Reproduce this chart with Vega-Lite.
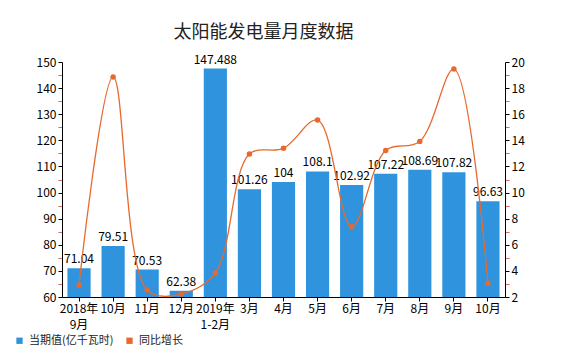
{
  "$schema": "https://vega.github.io/schema/vega-lite/v6.json",
  "autosize": {"type": "none"},
  "width": 443,
  "height": 235,
  "padding": {"left": 62, "top": 62, "right": 56, "bottom": 63},
  "background": "white",
  "title": {"text": "太阳能发电量月度数据", "fontSize": 18, "font": "Noto Sans CJK SC", "fontWeight": "normal", "color": "#222", "offset": 12, "anchor": "middle", "dx": -20},
  "data": {"values": [
    {"period": "2018-09", "value": 71.04, "yoy": 2.92},
    {"period": "2018-10", "value": 79.51, "yoy": 18.85},
    {"period": "2018-11", "value": 70.53, "yoy": 2.54},
    {"period": "2018-12", "value": 62.38, "yoy": 2.23},
    {"period": "2019-02", "value": 147.488, "yoy": 3.84},
    {"period": "2019-03", "value": 101.26, "yoy": 12.95},
    {"period": "2019-04", "value": 104, "yoy": 13.39},
    {"period": "2019-05", "value": 108.1, "yoy": 15.55},
    {"period": "2019-06", "value": 102.92, "yoy": 7.38},
    {"period": "2019-07", "value": 107.22, "yoy": 13.23},
    {"period": "2019-08", "value": 108.69, "yoy": 13.92},
    {"period": "2019-09", "value": 107.82, "yoy": 19.46},
    {"period": "2019-10", "value": 96.63, "yoy": 3.05}
  ]},
  "encoding": {
    "x": {
      "field": "period", "type": "ordinal", "sort": null,
      "scale": {"paddingInner": 0.32, "paddingOuter": 0.16},
      "axis": {
        "title": null, "labelAngle": 0, "labelFontSize": 12, "labelColor": "#000", "labelFont": "Noto Sans CJK SC",
        "labelLineHeight": 16, "tickSize": 4, "tickColor": "#000", "domainColor": "#000", "labelPadding": 2,
        "labelExpr": "datum.value == '2018-09' ? ['2018年','9月'] : datum.value == '2019-02' ? ['2019年','1-2月'] : toNumber(slice(datum.value,5)) + '月'"
      }
    }
  },
  "layer": [
    {
      "encoding": {
        "y": {
          "field": "value", "type": "quantitative",
          "scale": {"domain": [60, 150], "zero": false, "nice": false},
          "axis": {
            "title": null, "grid": false, "values": [60,65,70,75,80,85,90,95,100,105,110,115,120,125,130,135,140,145,150],
            "labelExpr": "datum.value % 10 === 0 ? datum.label : ''", "labelOverlap": false, "labelBound": false,
            "tickColor": {"condition": {"test": "datum.value % 10 !== 0", "value": "#e06666"}, "value": "#000"},
            "tickSize": 4, "domainColor": "#000", "labelFontSize": 12, "labelColor": "#000", "labelFont": "Noto Sans CJK SC", "labelPadding": 2
          }
        }
      },
      "layer": [
        {
          "mark": {"type": "bar", "clip": true},
          "encoding": {
            "color": {
              "datum": "当期值(亿千瓦时)", "type": "nominal",
              "scale": {"domain": ["当期值(亿千瓦时)", "同比增长"], "range": ["#2F93DE", "#E8692F"]},
              "legend": {
                "title": null, "orient": "none", "legendX": -48, "legendY": 273, "direction": "horizontal",
                "symbolType": "square", "symbolSize": 40, "labelFontSize": 11, "labelFont": "Noto Sans CJK SC",
                "labelColor": "#222", "columnPadding": 10, "symbolStrokeWidth": 0
              }
            }
          }
        },
        {
          "mark": {"type": "text", "baseline": "bottom", "dy": -2, "fontSize": 12, "font": "Noto Sans CJK SC", "color": "#000"},
          "encoding": {
            "text": {"field": "value", "type": "quantitative"}
          }
        }
      ]
    },
    {
      "encoding": {
        "y": {
          "field": "yoy", "type": "quantitative",
          "scale": {"domain": [2, 20], "zero": false, "nice": false},
          "axis": {
            "orient": "right", "title": null, "grid": false, "values": [2,3,4,5,6,7,8,9,10,11,12,13,14,15,16,17,18,19,20],
            "labelExpr": "datum.value % 2 === 0 ? datum.label : ''", "labelOverlap": false, "labelBound": false,
            "tickColor": {"condition": {"test": "datum.value % 2 !== 0", "value": "#e06666"}, "value": "#000"},
            "tickSize": 4, "domainColor": "#000", "labelFontSize": 12, "labelColor": "#000", "labelFont": "Noto Sans CJK SC", "labelPadding": 2
          }
        },
        "color": {"datum": "同比增长", "type": "nominal"}
      },
      "layer": [
        {
          "mark": {"type": "line", "interpolate": "catmull-rom", "strokeWidth": 1.3}
        },
        {
          "mark": {"type": "point", "filled": true, "size": 30, "opacity": 1}
        }
      ]
    }
  ],
  "resolve": {"scale": {"y": "independent"}},
  "config": {"view": {"stroke": null}}
}
